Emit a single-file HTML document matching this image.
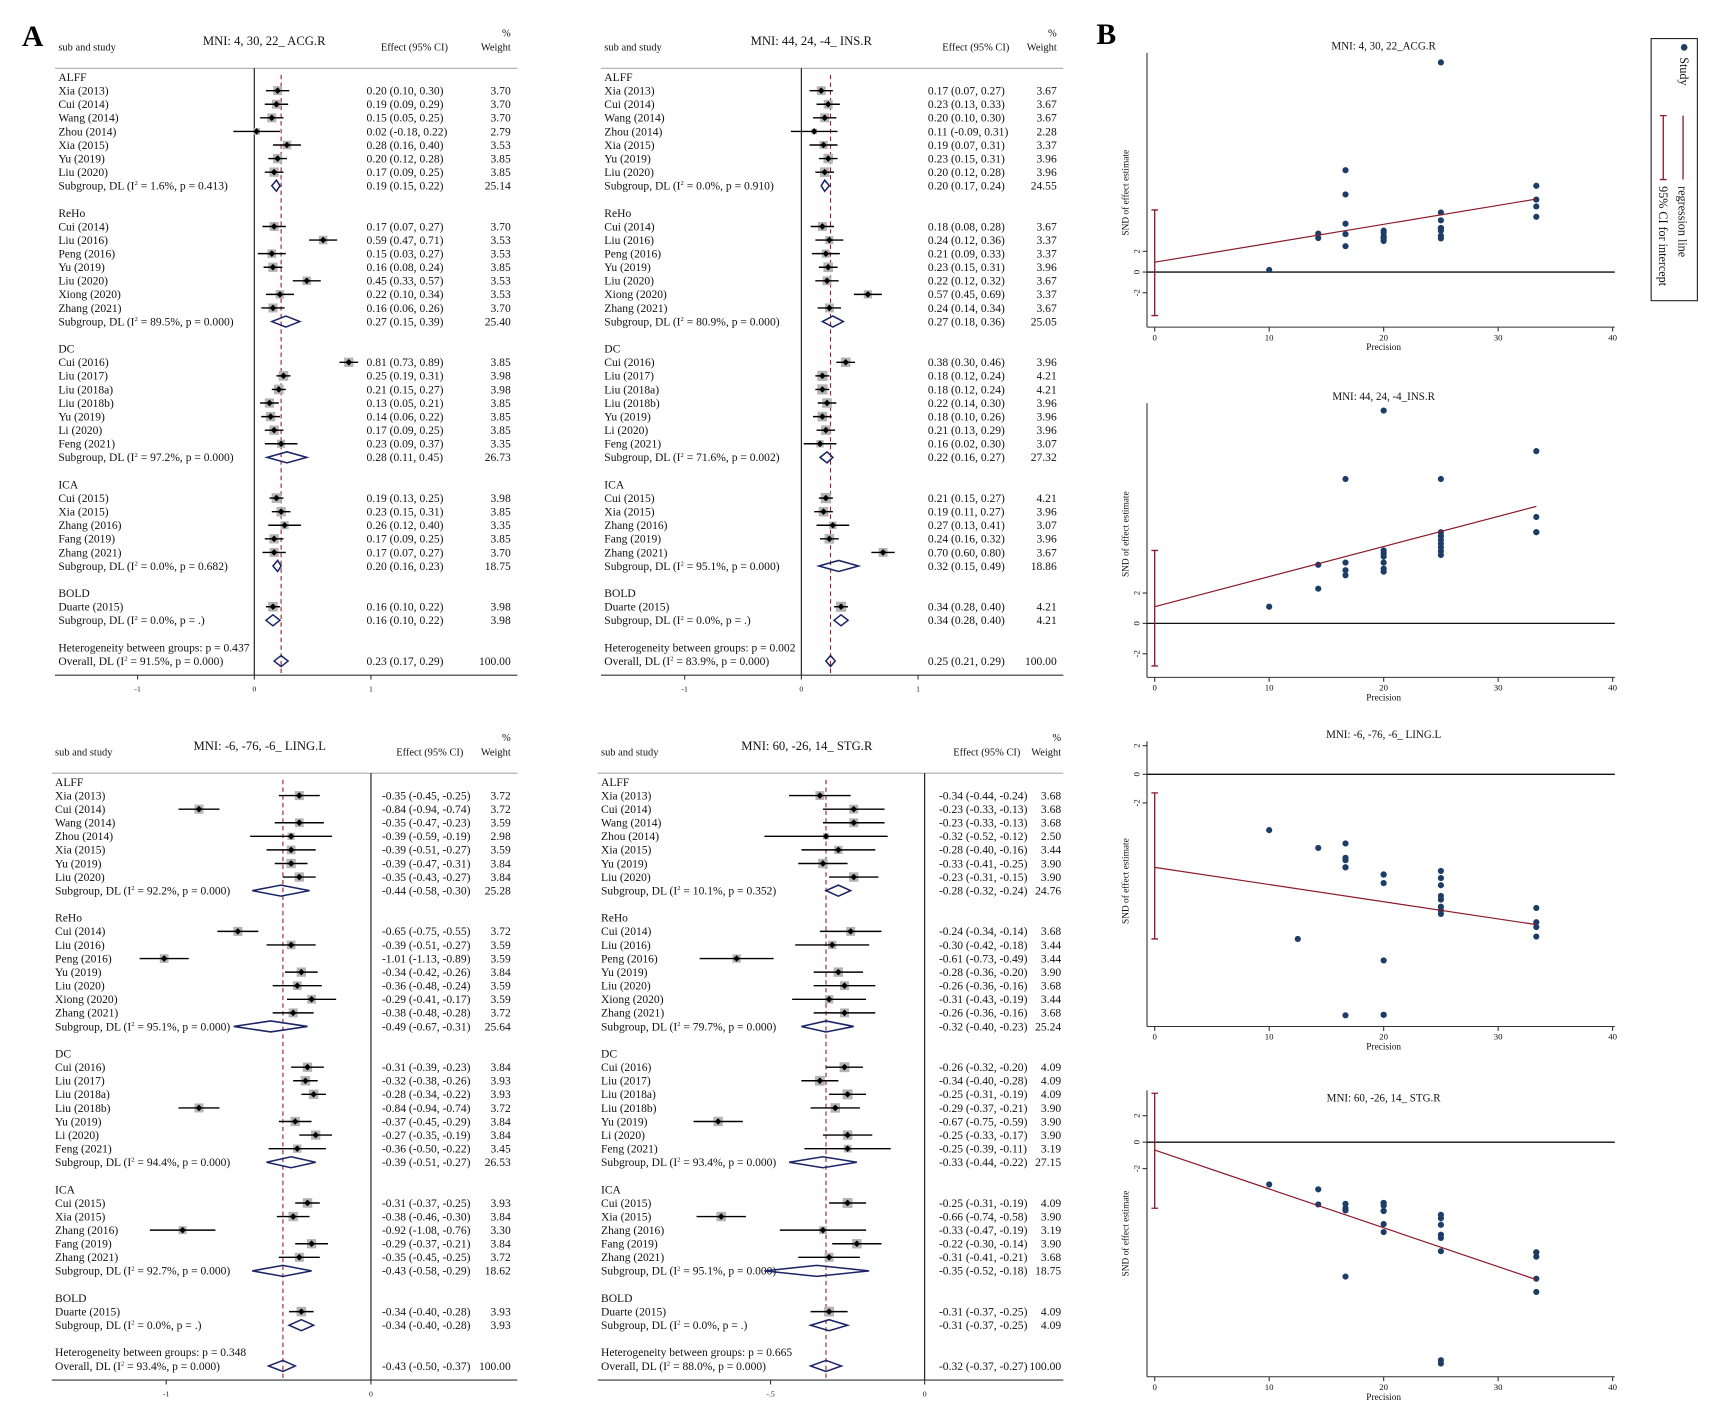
<!DOCTYPE html>
<html><head><meta charset="utf-8"><style>
html,body{margin:0;padding:0;background:#fff;}
svg{display:block;font-family:"Liberation Serif",serif;}
</style></head><body>
<svg id="fig" xmlns="http://www.w3.org/2000/svg" width="1726" height="1412" viewBox="0 0 1568 1282" preserveAspectRatio="none">
<rect x="0" y="0" width="1568" height="1282" fill="#fff"/>
<text x="20" y="42" font-size="27" font-weight="bold">A</text>
<text x="996" y="40" font-size="27" font-weight="bold">B</text>
</svg>
<script>
// ---------- Forest plot data ----------
const groupNames=['ALFF','ReHo','DC','ICA','BOLD'];
const groupSizes=[7,7,7,5,1];
const studyNames=['Xia (2013)','Cui (2014)','Wang (2014)','Zhou (2014)','Xia (2015)','Yu (2019)','Liu (2020)',
'Cui (2014)','Liu (2016)','Peng (2016)','Yu (2019)','Liu (2020)','Xiong (2020)','Zhang (2021)',
'Cui (2016)','Liu (2017)','Liu (2018a)','Liu (2018b)','Yu (2019)','Li (2020)','Feng (2021)',
'Cui (2015)','Xia (2015)','Zhang (2016)','Fang (2019)','Zhang (2021)','Duarte (2015)'];

const acgEff=[0.20,0.19,0.15,0.02,0.28,0.20,0.17, 0.17,0.59,0.15,0.16,0.45,0.22,0.16, 0.81,0.25,0.21,0.13,0.14,0.17,0.23, 0.19,0.23,0.26,0.17,0.17, 0.16];
const acgLo=[0.10,0.09,0.05,-0.18,0.16,0.12,0.09, 0.07,0.47,0.03,0.08,0.33,0.10,0.06, 0.73,0.19,0.15,0.05,0.06,0.09,0.09, 0.13,0.15,0.12,0.09,0.07, 0.10];
const acgHi=[0.30,0.29,0.25,0.22,0.40,0.28,0.25, 0.27,0.71,0.27,0.24,0.57,0.34,0.26, 0.89,0.31,0.27,0.21,0.22,0.25,0.37, 0.25,0.31,0.40,0.25,0.27, 0.22];
const acgWt=[3.70,3.70,3.70,2.79,3.53,3.85,3.85, 3.70,3.53,3.53,3.85,3.53,3.53,3.70, 3.85,3.98,3.98,3.85,3.85,3.85,3.35, 3.98,3.85,3.35,3.85,3.70, 3.98];
const acgSubEff=[0.19,0.27,0.28,0.20,0.16];
const acgSubLo=[0.15,0.15,0.11,0.16,0.10];
const acgSubHi=[0.22,0.39,0.45,0.23,0.22];
const acgSubWt=[25.14,25.40,26.73,18.75,3.98];
const acgSubI2=['1.6','89.5','97.2','0.0','0.0'];
const acgSubP=['0.413','0.000','0.000','0.682','.'];
const acgOverall=[0.23,0.17,0.29];
const acgOverallText=['91.5','0.000','0.437'];

const insEff=[0.17,0.23,0.20,0.11,0.19,0.23,0.20, 0.18,0.24,0.21,0.23,0.22,0.57,0.24, 0.38,0.18,0.18,0.22,0.18,0.21,0.16, 0.21,0.19,0.27,0.24,0.70, 0.34];
const insLo=[0.07,0.13,0.10,-0.09,0.07,0.15,0.12, 0.08,0.12,0.09,0.15,0.12,0.45,0.14, 0.30,0.12,0.12,0.14,0.10,0.13,0.02, 0.15,0.11,0.13,0.16,0.60, 0.28];
const insHi=[0.27,0.33,0.30,0.31,0.31,0.31,0.28, 0.28,0.36,0.33,0.31,0.32,0.69,0.34, 0.46,0.24,0.24,0.30,0.26,0.29,0.30, 0.27,0.27,0.41,0.32,0.80, 0.40];
const insWt=[3.67,3.67,3.67,2.28,3.37,3.96,3.96, 3.67,3.37,3.37,3.96,3.67,3.37,3.67, 3.96,4.21,4.21,3.96,3.96,3.96,3.07, 4.21,3.96,3.07,3.96,3.67, 4.21];
const insSubEff=[0.20,0.27,0.22,0.32,0.34];
const insSubLo=[0.17,0.18,0.16,0.15,0.28];
const insSubHi=[0.24,0.36,0.27,0.49,0.40];
const insSubWt=[24.55,25.05,27.32,18.86,4.21];
const insSubI2=['0.0','80.9','71.6','95.1','0.0'];
const insSubP=['0.910','0.000','0.002','0.000','.'];
const insOverall=[0.25,0.21,0.29];
const insOverallText=['83.9','0.000','0.002'];

const lingEff=[-0.35,-0.84,-0.35,-0.39,-0.39,-0.39,-0.35, -0.65,-0.39,-1.01,-0.34,-0.36,-0.29,-0.38, -0.31,-0.32,-0.28,-0.84,-0.37,-0.27,-0.36, -0.31,-0.38,-0.92,-0.29,-0.35, -0.34];
const lingLo=[-0.45,-0.94,-0.47,-0.59,-0.51,-0.47,-0.43, -0.75,-0.51,-1.13,-0.42,-0.48,-0.41,-0.48, -0.39,-0.38,-0.34,-0.94,-0.45,-0.35,-0.50, -0.37,-0.46,-1.08,-0.37,-0.45, -0.40];
const lingHi=[-0.25,-0.74,-0.23,-0.19,-0.27,-0.31,-0.27, -0.55,-0.27,-0.89,-0.26,-0.24,-0.17,-0.28, -0.23,-0.26,-0.22,-0.74,-0.29,-0.19,-0.22, -0.25,-0.30,-0.76,-0.21,-0.25, -0.28];
const lingWt=[3.72,3.72,3.59,2.98,3.59,3.84,3.84, 3.72,3.59,3.59,3.84,3.59,3.59,3.72, 3.84,3.93,3.93,3.72,3.84,3.84,3.45, 3.93,3.84,3.30,3.84,3.72, 3.93];
const lingSubEff=[-0.44,-0.49,-0.39,-0.43,-0.34];
const lingSubLo=[-0.58,-0.67,-0.51,-0.58,-0.40];
const lingSubHi=[-0.30,-0.31,-0.27,-0.29,-0.28];
const lingSubWt=[25.28,25.64,26.53,18.62,3.93];
const lingSubI2=['92.2','95.1','94.4','92.7','0.0'];
const lingSubP=['0.000','0.000','0.000','0.000','.'];
const lingOverall=[-0.43,-0.50,-0.37];
const lingOverallText=['93.4','0.000','0.348'];

const stgEff=[-0.34,-0.23,-0.23,-0.32,-0.28,-0.33,-0.23, -0.24,-0.30,-0.61,-0.28,-0.26,-0.31,-0.26, -0.26,-0.34,-0.25,-0.29,-0.67,-0.25,-0.25, -0.25,-0.66,-0.33,-0.22,-0.31, -0.31];
const stgLo=[-0.44,-0.33,-0.33,-0.52,-0.40,-0.41,-0.31, -0.34,-0.42,-0.73,-0.36,-0.36,-0.43,-0.36, -0.32,-0.40,-0.31,-0.37,-0.75,-0.33,-0.39, -0.31,-0.74,-0.47,-0.30,-0.41, -0.37];
const stgHi=[-0.24,-0.13,-0.13,-0.12,-0.16,-0.25,-0.15, -0.14,-0.18,-0.49,-0.20,-0.16,-0.19,-0.16, -0.20,-0.28,-0.19,-0.21,-0.59,-0.17,-0.11, -0.19,-0.58,-0.19,-0.14,-0.21, -0.25];
const stgWt=[3.68,3.68,3.68,2.50,3.44,3.90,3.90, 3.68,3.44,3.44,3.90,3.68,3.44,3.68, 4.09,4.09,4.09,3.90,3.90,3.90,3.19, 4.09,3.90,3.19,3.90,3.68, 4.09];
const stgSubEff=[-0.28,-0.32,-0.33,-0.35,-0.31];
const stgSubLo=[-0.32,-0.40,-0.44,-0.52,-0.37];
const stgSubHi=[-0.24,-0.23,-0.22,-0.18,-0.25];
const stgSubWt=[24.76,25.24,27.15,18.75,4.09];
const stgSubI2=['10.1','79.7','93.4','95.1','0.0'];
const stgSubP=['0.352','0.000','0.000','0.000','.'];
const stgOverall=[-0.32,-0.37,-0.27];
const stgOverallText=['88.0','0.000','0.665'];

const forestTitles=['MNI: 4, 30, 22_ ACG.R','MNI: 44, 24, -4_ INS.R','MNI: -6, -76, -6_ LING.L','MNI: 60, -26, 14_ STG.R'];
const forestTickVals=[[-1,0,1],[-1,0,1],[-1,0],[-0.5,0]];
const forestTickLabels=[['-1','0','1'],['-1','0','1'],['-1','0'],['-.5','0']];

// ---------- Egger (panel B) data ----------
const eggerTitles=['MNI: 4, 30, 22_ACG.R','MNI: 44, 24, -4_INS.R','MNI: -6, -76, -6_ LING.L','MNI: 60, -26, 14_ STG.R'];
const eggerIntercept=[0.95,1.1,-6.5,-0.6];
const eggerSlope=[0.183,0.198,-0.12,-0.294];
const eggerCILo=[-4.2,-2.8,-11.5,-5.0];
const eggerCIHi=[6.0,4.8,-1.3,3.7];
const eggerXTicks=[0,10,20,30,40];
const eggerYTicks=[2,0,-2];

const NS='http://www.w3.org/2000/svg';
const svg=document.getElementById('fig');
function mk(tag,attrs,parent){const e=document.createElementNS(NS,tag);for(const k in attrs)e.setAttribute(k,attrs[k]);(parent||svg).appendChild(e);return e;}
function txt(x,y,s,size,anchor,parent){const t=mk('text',{x:x,y:y,'font-size':size,'text-anchor':anchor||'start',fill:'#111'},parent);t.textContent=s;return t;}
function f2(v){return v.toFixed(2);}

const forestData=[
 {eff:acgEff,lo:acgLo,hi:acgHi,wt:acgWt,se:acgSubEff,sl:acgSubLo,sh:acgSubHi,sw:acgSubWt,si:acgSubI2,sp:acgSubP,ov:acgOverall,ot:acgOverallText},
 {eff:insEff,lo:insLo,hi:insHi,wt:insWt,se:insSubEff,sl:insSubLo,sh:insSubHi,sw:insSubWt,si:insSubI2,sp:insSubP,ov:insOverall,ot:insOverallText},
 {eff:lingEff,lo:lingLo,hi:lingHi,wt:lingWt,se:lingSubEff,sl:lingSubLo,sh:lingSubHi,sw:lingSubWt,si:lingSubI2,sp:lingSubP,ov:lingOverall,ot:lingOverallText},
 {eff:stgEff,lo:stgLo,hi:stgHi,wt:stgWt,se:stgSubEff,sl:stgSubLo,sh:stgSubHi,sw:stgSubWt,si:stgSubI2,sp:stgSubP,ov:stgOverall,ot:stgOverallText}
];
const forestLayout=[
 {lx:53,zx:231,sc:106,ex:333,wr:464,y0:70,ax0:50,ax1:470,hdr:62,axY:613,tx:240,ty:41,ch:46},
 {lx:549,zx:728,sc:106,ex:843,wr:960,y0:70,ax0:546,ax1:966,hdr:62,axY:613,tx:737,ty:41,ch:46},
 {lx:50,zx:337,sc:186,ex:347,wr:464,y0:710,ax0:47,ax1:470,hdr:702,axY:1253,tx:236,ty:681,ch:686},
 {lx:546,zx:840,sc:280,ex:853,wr:964,y0:710,ax0:543,ax1:966,hdr:702,axY:1253,tx:733,ty:681,ch:686}
];
const STEP=12.33, FS=10.5;

function subLabel(g,x,y,pre,i2,p){
  const t=mk('text',{x:x,y:y,'font-size':FS,fill:'#111'},g);
  const a=document.createElementNS(NS,'tspan');a.textContent=pre+' (I';t.appendChild(a);
  const b=document.createElementNS(NS,'tspan');b.setAttribute('dy','-4');b.setAttribute('font-size','6');b.textContent='2';t.appendChild(b);
  const c=document.createElementNS(NS,'tspan');c.setAttribute('dy','4');c.textContent=' = '+i2+'%, p = '+p+')';t.appendChild(c);
  return t;
}

forestData.forEach((d,pi)=>{
  const L=forestLayout[pi];
  const g=mk('g',{});
  
  
  const X=v=>L.zx+v*L.sc;
  const rowY=r=>L.y0+r*STEP;
  let t=txt(L.lx,L.ch,'sub and study',9.5,'start',g);
  
  
  t=txt(L.tx,L.ty,forestTitles[pi],11.5,'middle',g);
  
  
  t=txt(L.ex+13,L.ch,'Effect (95% CI)',9.5,'start',g);
  
  
  t=txt(L.wr,L.ch-13,'%',9.5,'end',g);
  
  
  t=txt(L.wr,L.ch,'Weight',9.5,'end',g);
  
  
  let ln=mk('line',{x1:L.ax0,x2:L.ax1,y1:L.hdr,y2:L.hdr,stroke:'#aaa','stroke-width':1},g);
  
  
  ln=mk('line',{x1:L.ax0,x2:L.ax1,y1:L.axY,y2:L.axY,stroke:'#333','stroke-width':1},g);
  
  
  ln=mk('line',{x1:L.zx,x2:L.zx,y1:L.hdr,y2:L.axY,stroke:'#111','stroke-width':1},g);
  
  
  ln=mk('line',{x1:X(d.ov[0]),x2:X(d.ov[0]),y1:L.hdr+6,y2:L.axY,stroke:'#9b1c2c','stroke-width':1,'stroke-dasharray':'4,3'},g);
  
  
  forestTickVals[pi].forEach((v,k)=>{
    const tk=mk('line',{x1:X(v),x2:X(v),y1:L.axY,y2:L.axY+4,stroke:'#333'},g);
    
    
    const tl=txt(X(v),L.axY+15,forestTickLabels[pi][k],7,'middle',g);
    
    
  });
  let r=0, s=0;
  groupNames.forEach((gn,gi)=>{
    const gh=txt(L.lx,rowY(r)+3.5,gn,FS,'start',g);
    
    
    r++;
    for(let k=0;k<groupSizes[gi];k++,s++,r++){
      const y=rowY(r);
      const nm=txt(L.lx,y+3.5,studyNames[s],FS,'start',g);
      
      
      const sz=d.wt[s]*2.2;
      const sq=mk('rect',{x:X(d.eff[s])-sz/2,y:y-sz/2,width:sz,height:sz,fill:'#b4b4b4'},g);
      
      
      const ci=mk('line',{x1:X(d.lo[s]),x2:X(d.hi[s]),y1:y,y2:y,stroke:'#000','stroke-width':1.3},g);
      
      
      const ex=X(d.eff[s]);
      const pt=mk('path',{d:`M${ex-3},${y}L${ex},${y-3}L${ex+3},${y}L${ex},${y+3}Z`,fill:'#000'},g);
      
      
      const et=txt(L.ex,y+3.5,`${f2(d.eff[s])} (${f2(d.lo[s])}, ${f2(d.hi[s])})`,FS,'start',g);
      
      
      const wt=txt(L.wr,y+3.5,f2(d.wt[s]),FS,'end',g);
      
      
    }
    const y=rowY(r);
    const sl=subLabel(g,L.lx,y+3.5,'Subgroup, DL',d.si[gi],d.sp[gi]);
    
    
    const a=X(d.sl[gi]),b=X(d.sh[gi]),c=X(d.se[gi]);
    const dm=mk('path',{d:`M${a},${y}L${c},${y-5}L${b},${y}L${c},${y+5}Z`,fill:'none',stroke:'#1b2466','stroke-width':1.4},g);
    
    
    const se=txt(L.ex,y+3.5,`${f2(d.se[gi])} (${f2(d.sl[gi])}, ${f2(d.sh[gi])})`,FS,'start',g);
    
    
    const sw=txt(L.wr,y+3.5,f2(d.sw[gi]),FS,'end',g);
    
    
    r+=2;
  });
  const hy=rowY(r);
  const ht=txt(L.lx,hy+3.5,'Heterogeneity between groups: p = '+d.ot[2],FS,'start',g);
  
  
  r++;
  const oy=rowY(r);
  const ol=subLabel(g,L.lx,oy+3.5,'Overall, DL',d.ot[0],d.ot[1]);
  
  
  const a=X(d.ov[1]),b=X(d.ov[2]),c=X(d.ov[0]);
  const od=mk('path',{d:`M${a},${oy}L${c},${oy-5}L${b},${oy}L${c},${oy+5}Z`,fill:'none',stroke:'#1b2466','stroke-width':1.4},g);
  
  
  const oe=txt(L.ex,oy+3.5,`${f2(d.ov[0])} (${f2(d.ov[1])}, ${f2(d.ov[2])})`,FS,'start',g);
  
  
  const ow=txt(L.wr,oy+3.5,'100.00',FS,'end',g);
  
  
});

// ---------- Egger plots ----------
const eggerLayout=[
 {top:48,bot:297,zy:247,py:9.4,ty:45,lblY:175},
 {top:366,bot:615,zy:566,py:13.8,ty:363,lblY:485},
 {top:673,bot:932,zy:703,py:13,ty:670,lblY:800},
 {top:990,bot:1250,zy:1037,py:12,ty:1000,lblY:1120}
];
const AXL=1042, X0=1049, PX=10.4, XR=1467;
forestData.forEach((d,pi)=>{
  const L=eggerLayout[pi];
  const g=mk('g',{});
  
  
  const xs=v=>X0+v*PX, ys=v=>L.zy-v*L.py;
  let t=txt(1257,L.ty,eggerTitles[pi],10,'middle',g);
  
  
  let ln=mk('line',{x1:AXL,x2:AXL,y1:L.top,y2:L.bot,stroke:'#333'},g);
  
  
  ln=mk('line',{x1:AXL,x2:XR,y1:L.bot,y2:L.bot,stroke:'#333'},g);
  
  
  ln=mk('line',{x1:AXL,x2:XR,y1:L.zy,y2:L.zy,stroke:'#111','stroke-width':1.2},g);
  
  
  eggerXTicks.forEach(v=>{
    const tk=mk('line',{x1:xs(v),x2:xs(v),y1:L.bot,y2:L.bot+4,stroke:'#333'},g);
    
    
    const tl=txt(xs(v),L.bot+12,String(v),8,'middle',g);
    
    
  });
  eggerYTicks.forEach(v=>{
    const tk=mk('line',{x1:AXL-4,x2:AXL,y1:ys(v),y2:ys(v),stroke:'#333'},g);
    
    
    const tl=txt(0,0,String(v),8,'middle',g);
    tl.setAttribute('transform',`translate(${AXL-7},${ys(v)}) rotate(-90)`);
    
    
  });
  t=txt(1257,L.bot+21,'Precision',8.5,'middle',g);
  
  
  t=txt(0,0,'SND of effect estimate',8.5,'middle',g);
  t.setAttribute('transform',`translate(1025,${L.lblY}) rotate(-90)`);
  
  
  const c1=ys(eggerCIHi[pi]), c2=ys(eggerCILo[pi]);
  const ci=mk('path',{d:`M${X0-3},${c1}H${X0+3}M${X0},${c1}V${c2}M${X0-3},${c2}H${X0+3}`,stroke:'#8b1a2b','stroke-width':1.2,fill:'none'},g);
  
  
  for(let s=0;s<d.eff.length;s++){
    const se=Math.round((d.hi[s]-d.lo[s])/3.92*100)/100;
    const prec=1/se, snd=d.eff[s]/se;
    const p=mk('circle',{cx:xs(prec),cy:ys(snd),r:2.8,fill:'#1d3d66'},g);
    
    
  }
  const xe=100/3;
  const rl=mk('line',{x1:xs(0),y1:ys(eggerIntercept[pi]),x2:xs(xe),y2:ys(eggerIntercept[pi]+eggerSlope[pi]*xe),stroke:'#8b1a2b','stroke-width':1.1},g);
  
  
});

// legend
const lg=mk('g',{});


let e=mk('rect',{x:1500,y:35,width:42,height:238,fill:'#fff',stroke:'#222','stroke-width':1},lg);


e=mk('circle',{cx:1530,cy:43,r:3,fill:'#1d3d66'},lg);


e=txt(0,0,'Study',11,'start',lg);
e.setAttribute('transform','translate(1526,52) rotate(90)');


e=mk('line',{x1:1529,x2:1529,y1:105,y2:163,stroke:'#8b1a2b','stroke-width':1.2},lg);


e=txt(0,0,'regression line',11,'start',lg);
e.setAttribute('transform','translate(1525,169) rotate(90)');


e=mk('path',{d:'M1508,105H1514M1511,105V163M1508,163H1514',stroke:'#8b1a2b','stroke-width':1.2,fill:'none'},lg);


e=txt(0,0,'95% CI for intercept',11,'start',lg);
e.setAttribute('transform','translate(1507,169) rotate(90)');


</script>
</body></html>
